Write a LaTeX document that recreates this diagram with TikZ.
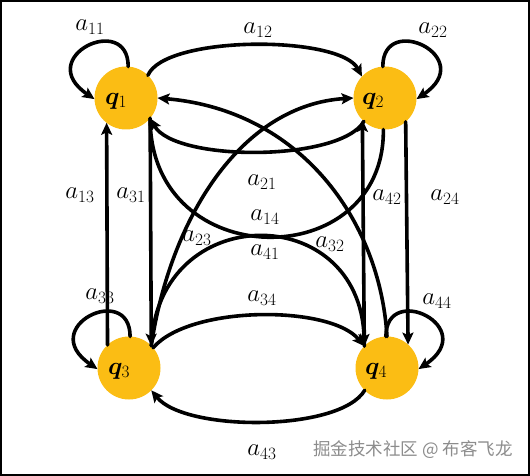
\documentclass[tikz,border=0pt]{standalone}
\usepackage{bm}
\usepackage{fontspec}
\newfontfamily\cjk{Noto Sans CJK SC}
\usetikzlibrary{arrows.meta}
\definecolor{qfill}{RGB}{251,189,20}
\definecolor{wmgrey}{RGB}{140,140,140}
\begin{document}
\begin{tikzpicture}[x=1pt,y=-1pt,
  qnode/.style={circle,fill=qfill,minimum size=63pt,inner sep=0pt,outer sep=0pt},
  qlab/.style={font=\fontsize{24}{27}\selectfont},
  elab/.style={font=\fontsize{24.5}{28}\selectfont,inner sep=0pt},
  edge/.style={line width=3.6pt,line cap=round},
  arr/.style={edge,-{Stealth[length=12pt,width=11pt,inset=2.5pt]}},
  wm/.style={font=\cjk\fontsize{17.5}{20}\selectfont,text=wmgrey}]
\useasboundingbox (0,0) rectangle (530,476);
\draw[line width=2pt] (1,1) rectangle (529,475);
% nodes
\node[qnode,label={[qlab,xshift=-10pt,yshift=-3pt]center:$\bm{q}_1$}] (q1) at (126,98) {};
\node[qnode,label={[qlab,xshift=-12pt,yshift=-3pt]center:$\bm{q}_2$}] (q2) at (385,98) {};
\node[qnode,label={[qlab,xshift=-10pt,yshift=-3pt]center:$\bm{q}_3$}] (q3) at (129,368) {};
\node[qnode,label={[qlab,xshift=-11pt,yshift=-3pt]center:$\bm{q}_4$}] (q4) at (387,368) {};
% labels
\node[elab] (l11) at (90,27) {$a_{11}$};
\node[elab] (l12) at (258,30) {$a_{12}$};
\node[elab] (l22) at (433,30) {$a_{22}$};
\node[elab] (l21) at (262,182) {$a_{21}$};
\node[elab] (l13) at (80,195) {$a_{13}$};
\node[elab] (l31) at (131,195) {$a_{31}$};
\node[elab] (l14) at (265,217) {$a_{14}$};
\node[elab] (l23) at (197,238) {$a_{23}$};
\node[elab] (l41) at (265,252) {$a_{41}$};
\node[elab] (l32) at (330,244) {$a_{32}$};
\node[elab] (l42) at (387,197) {$a_{42}$};
\node[elab] (l24) at (445,197) {$a_{24}$};
\node[elab] (l33) at (100,296) {$a_{33}$};
\node[elab] (l34) at (262,298) {$a_{34}$};
\node[elab] (l44) at (437,301) {$a_{44}$};
\node[elab] (l43) at (262,452) {$a_{43}$};
\node[wm] (wmk) at (413,450) {掘金技术社区 @ 布客飞龙};
% self loops
\draw[arr] (q1.86) .. controls +(0,-55) and +(-62,-42) .. (q1.182);
\draw[arr] (q2.94) .. controls +(0,-55) and +(62,-42) .. (q2.-2);
\draw[arr] (q3.88) .. controls +(0,-55) and +(-62,-42) .. (q3.182);
\draw[arr] (q4.92) .. controls +(0,-55) and +(62,-42) .. (q4.-2);
% top arcs
\draw[arr] (q1.46) .. controls (165,35) and (340,35) .. (q2.137);
\draw[arr] (q2.-132) .. controls (340,162) and (175,162) .. (q1.-40);
% long crossing curves
\draw[arr] (q4.90) .. controls (380,220) and (300,110) .. (q1.0);
\draw[arr] (q3.45) .. controls (170,220) and (240,105) .. (q2.180);
% U and cap
\draw[edge] (q1.-40) .. controls (150,275) and (385,275) .. (q2.-93);
\draw[arr] (q3.45) .. controls (158,200) and (360,200) .. (q4.136);
% bottom arcs
\draw[arr] (q3.40) .. controls (190,305) and (330,305) .. (q4.136);
\draw[arr] (q4.-135) .. controls (340,432) and (185,432) .. (q3.-45);
% verticals
\draw[arr] (q3.133) -- (q1.-128);
\draw[arr] (q1.-40) -- (q3.45);
\draw[arr] (q4.136) -- (q2.-136);
\draw[arr] (q2.-49) -- (q4.48);
\end{tikzpicture}
\end{document}
